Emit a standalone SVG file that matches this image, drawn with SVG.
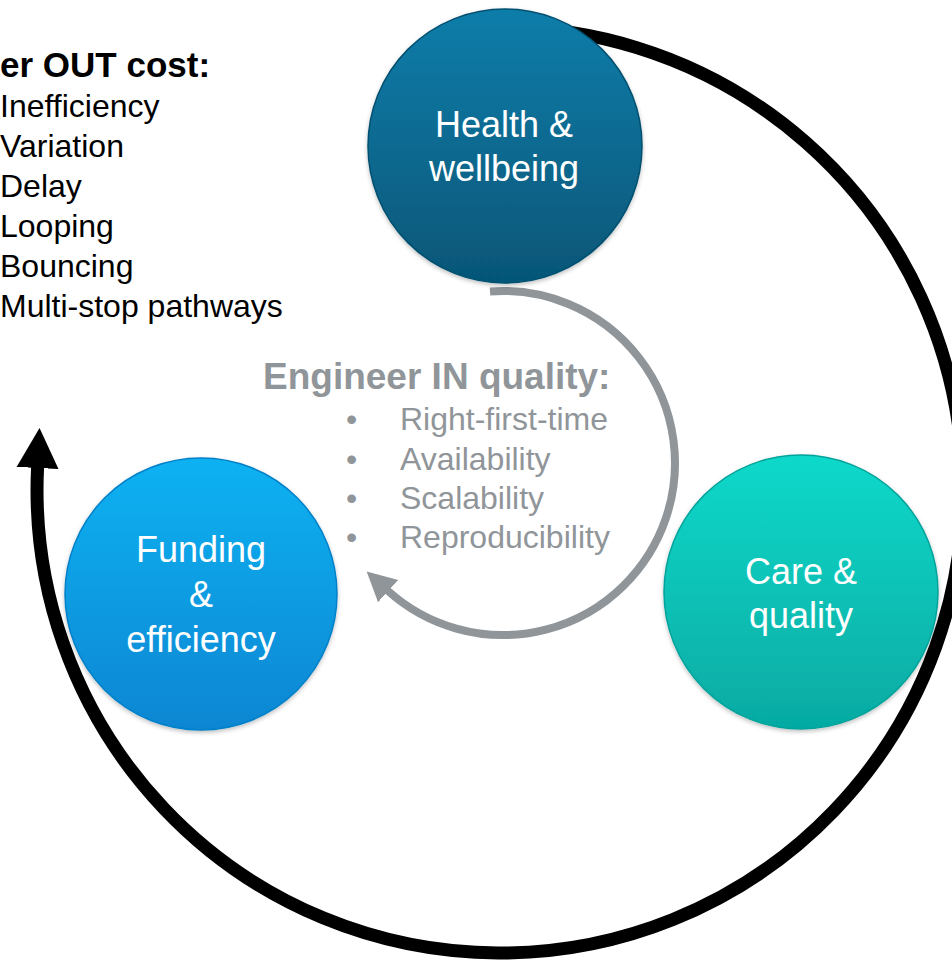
<svg xmlns="http://www.w3.org/2000/svg" width="952" height="960" viewBox="0 0 952 960">
<defs>
<style>
.txt{font-family:"Liberation Sans",Arial,Helvetica,sans-serif}
.node-label{font-size:36px;fill:#ffffff;text-anchor:middle}
.out-title{font-size:35px;font-weight:bold;fill:#000000}
.out-item{font-size:32px;fill:#000000}
.in-title{font-size:37px;font-weight:bold;fill:#909599}
.in-item{font-size:32px;fill:#909599}
.ring{fill:none;stroke:#000000;stroke-width:13}
.inner{fill:none;stroke:#909599;stroke-width:8}
.disc{stroke-width:1.5;filter:url(#shadow)}
</style>
<linearGradient id="gHealth" x1="0" y1="0" x2="0" y2="1">
<stop offset="0" stop-color="#0F7DAA"/><stop offset="1" stop-color="#065677"/>
</linearGradient>
<linearGradient id="gFund" x1="0" y1="0" x2="0" y2="1">
<stop offset="0" stop-color="#0BB2F2"/><stop offset="1" stop-color="#0786D2"/>
</linearGradient>
<linearGradient id="gCare" x1="0" y1="0" x2="0" y2="1">
<stop offset="0" stop-color="#0ED9CA"/><stop offset="1" stop-color="#06AAA2"/>
</linearGradient>
<filter id="shadow" x="-10%" y="-10%" width="120%" height="125%">
<feDropShadow dx="0" dy="2" stdDeviation="2" flood-color="#000" flood-opacity="0.25"/>
</filter>
<marker id="ahBlack" markerUnits="userSpaceOnUse" viewBox="0 -22 42 44" markerWidth="42" markerHeight="44" refX="1" refY="0" orient="auto">
<path d="M0,-21 L40,0 L0,21 z" fill="#000000"/>
</marker>
<marker id="ahGray" markerUnits="userSpaceOnUse" viewBox="0 -16 30 32" markerWidth="30" markerHeight="32" refX="1" refY="0" orient="auto">
<path d="M0,-15 L29,0 L0,15 z" fill="#909599"/>
</marker>
</defs>
<rect width="952" height="960" fill="#ffffff"/>

<g id="connectors">
<path id="outer-cycle" class="ring" d="M459.6 28.8 A463 463 0 1 1 37.6 467" marker-end="url(#ahBlack)"/>
<path id="inner-cycle" class="inner" d="M490 291.5 A172 172 0 1 1 387.4 590.4" marker-end="url(#ahGray)"/>
</g>

<g id="node-health">
<circle class="disc" cx="505" cy="146" r="137" fill="url(#gHealth)" stroke="#055070"/>
<text class="txt node-label" x="504" y="137">Health &amp;</text>
<text class="txt node-label" x="504" y="181">wellbeing</text>
</g>

<g id="node-funding">
<circle class="disc" cx="201" cy="594" r="136" fill="url(#gFund)" stroke="#0680C8"/>
<text class="txt node-label" x="201" y="562">Funding</text>
<text class="txt node-label" x="201" y="607">&amp;</text>
<text class="txt node-label" x="201" y="652">efficiency</text>
</g>

<g id="node-care">
<circle class="disc" cx="801" cy="592" r="137" fill="url(#gCare)" stroke="#06A39B"/>
<text class="txt node-label" x="801" y="584">Care &amp;</text>
<text class="txt node-label" x="801" y="628">quality</text>
</g>

<g id="engineer-out">
<text class="txt out-title" x="0" y="77">er OUT cost:</text>
<text class="txt out-item" x="0" y="117">Inefficiency</text>
<text class="txt out-item" x="0" y="157">Variation</text>
<text class="txt out-item" x="0" y="197">Delay</text>
<text class="txt out-item" x="0" y="237">Looping</text>
<text class="txt out-item" x="0" y="277">Bouncing</text>
<text class="txt out-item" x="0" y="317">Multi-stop pathways</text>
</g>

<g id="engineer-in">
<text class="txt in-title" x="263" y="389">Engineer IN quality:</text>
<text class="txt in-item" x="346" y="430">•</text>
<text class="txt in-item" x="400" y="430">Right-first-time</text>
<text class="txt in-item" x="346" y="470">•</text>
<text class="txt in-item" x="400" y="470">Availability</text>
<text class="txt in-item" x="346" y="509">•</text>
<text class="txt in-item" x="400" y="509">Scalability</text>
<text class="txt in-item" x="346" y="548">•</text>
<text class="txt in-item" x="400" y="548">Reproducibility</text>
</g>
</svg>
